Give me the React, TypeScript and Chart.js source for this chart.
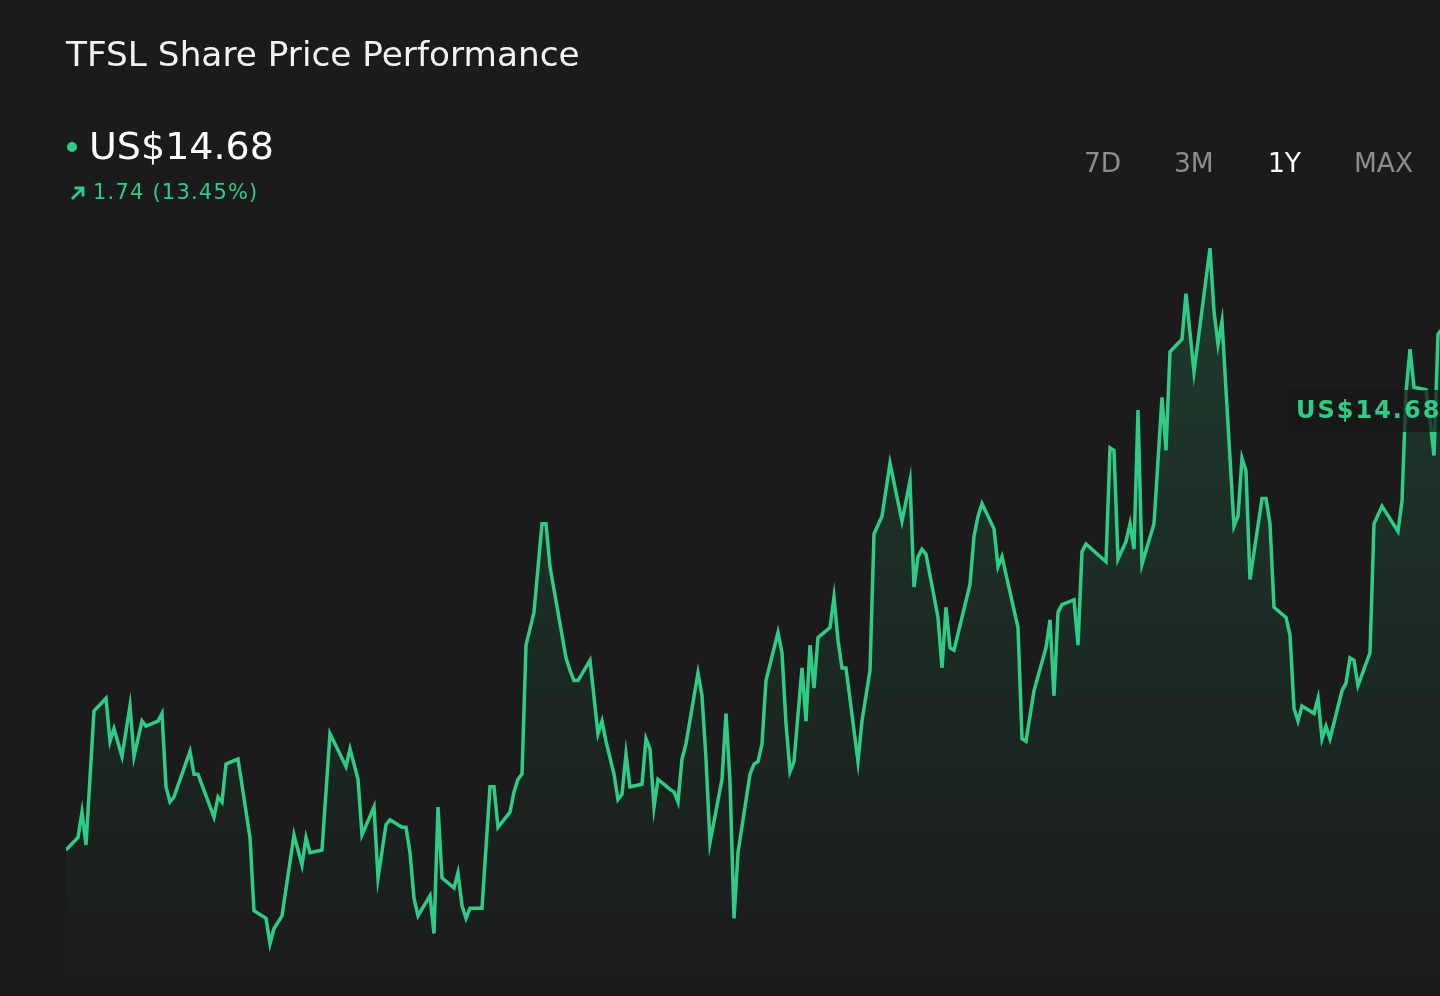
import { useEffect, useRef } from "react"
import Chart from "chart.js/auto"

// trading day index (from start of the 1Y window) and close price
const dayIndex = [
  0, 3, 4, 5, 7, 10, 11, 12, 14, 16, 17, 19, 20, 23, 24, 25, 26, 27, 31, 32, 33, 37, 38, 39, 40, 43,
  46, 47, 50, 51, 52, 54, 57, 59, 60, 61, 64, 66, 70, 71, 73, 74, 77, 78, 80, 81, 84, 85, 86, 87, 88,
  91, 92, 93, 94, 97, 98, 99, 100, 101, 104, 106, 107, 108, 111, 112, 113, 114, 115, 117, 119, 120,
  121, 125, 126, 127, 128, 131, 133, 134, 135, 137, 138, 139, 140, 141, 144, 145, 146, 147, 148, 151,
  152, 153, 154, 155, 158, 159, 160, 161, 164, 165, 166, 167, 168, 171, 172, 173, 174, 175, 178, 179,
  180, 181, 182, 184, 185, 186, 187, 188, 191, 192, 193, 194, 195, 198, 199, 201, 202, 204, 206, 209,
  211, 212, 213, 214, 215, 218, 219, 220, 221, 222, 226, 227, 228, 229, 232, 233, 234, 238, 239, 240,
  242, 245, 246, 247, 248, 249, 252, 253, 254, 255, 260, 261, 262, 263, 265, 266, 267, 268, 269, 272,
  274, 275, 276, 279, 280, 282, 286, 287, 288, 289, 292, 293, 294, 295, 296, 299, 300, 301, 302, 305,
  306, 307, 308, 309, 312, 313, 314, 315, 316, 319, 320, 321, 322, 323, 326, 327, 329, 333, 334, 335,
  336, 337, 340, 341, 342, 343, 344, 346, 348,
]

const closePrices = [
  12.94, 12.99, 13.09, 12.96, 13.49, 13.54, 13.37, 13.42, 13.31, 13.51, 13.31, 13.45, 13.43, 13.45,
  13.48, 13.19, 13.13, 13.15, 13.33, 13.24, 13.24, 13.07, 13.15, 13.13, 13.28, 13.3,
  12.99, 12.7, 12.67, 12.57, 12.63, 12.68, 13.0, 12.88, 12.99, 12.93, 12.94, 13.4, 13.27, 13.34, 13.22,
  13.0, 13.11, 12.83, 13.04, 13.06, 13.03, 13.03, 12.93, 12.75, 12.68,
  12.76, 12.61, 13.11, 12.83, 12.79, 12.85, 12.72, 12.67, 12.71, 12.71, 13.19, 13.19, 13.03, 13.09,
  13.17, 13.22, 13.24, 13.75, 13.88, 14.23, 14.23,
  14.06, 13.7, 13.65, 13.61, 13.61, 13.69, 13.4, 13.45, 13.37, 13.24, 13.14, 13.16, 13.32, 13.19,
  13.2, 13.38, 13.34, 13.11, 13.22, 13.18,
  13.17, 13.13, 13.3, 13.36, 13.64, 13.55, 13.3, 12.97, 13.22, 13.48, 13.21, 12.67, 12.93, 13.24,
  13.28, 13.29, 13.36, 13.61, 13.8, 13.72,
  13.44, 13.25, 13.29, 13.66, 13.45, 13.75, 13.58, 13.78, 13.82, 13.94, 13.77, 13.66, 13.66, 13.29,
  13.45, 13.65, 14.19, 14.26, 14.47, 14.24,
  14.4, 13.98, 14.1, 14.13, 14.11, 13.86, 13.66, 13.9, 13.74, 13.73, 13.99, 14.18, 14.26, 14.31,
  14.21, 14.06, 14.1, 13.82, 13.38, 13.37,
  13.57, 13.74, 13.85, 13.55, 13.88, 13.91, 13.93, 13.75, 14.12, 14.15, 14.08, 14.53, 14.52, 14.09,
  14.16, 14.23, 14.13, 14.68, 14.07, 14.23,
  14.73, 14.52, 14.91, 14.96, 15.14, 14.83, 15.32, 15.07, 14.94, 15.03, 14.22, 14.26, 14.49, 14.44,
  14.01, 14.33, 14.33, 14.23, 13.9, 13.86,
  13.79, 13.5, 13.45, 13.51, 13.48, 13.54, 13.38, 13.43, 13.38, 13.57, 13.6, 13.7, 13.69, 13.59,
  13.72, 14.23, 14.3, 14.2, 14.32, 14.75,
  14.92, 14.77, 14.76, 14.64, 14.5, 14.98, 15.0, 14.9, 14.68,
]

const rangeLabels = ["7D", "3M", "1Y", "MAX"]
const activeRange = "1Y"
const lastPrice = 14.68
const priceChange = 1.74
const changePercent = 13.45

const green = "#2fcc85"
const font = "'DejaVu Sans', Verdana, sans-serif"

const lastPriceLabel = {
  id: "lastPriceLabel",
  afterDatasetsDraw(chart) {
    const { ctx, chartArea, scales } = chart
    const y = scales.y.getPixelForValue(lastPrice)
    const x = chartArea.right - 170
    ctx.save()
    ctx.fillStyle = "rgba(24, 24, 24, 0.72)"
    ctx.beginPath()
    ctx.roundRect(x - 9, y - 20, 200, 42, 4)
    ctx.fill()
    ctx.fillStyle = green
    ctx.font = `bold 24px ${font}`
    ctx.letterSpacing = "2px"
    ctx.textBaseline = "alphabetic"
    ctx.fillText(`US$${lastPrice.toFixed(2)}`, x, y + 8)
    ctx.restore()
  },
}

function PriceChart() {
  const chartRef = useRef(null)
  const chartInstance = useRef(null)

  useEffect(() => {
    if (chartInstance.current) chartInstance.current.destroy()
    const ctx = chartRef.current.getContext("2d")

    chartInstance.current = new Chart(ctx, {
      type: "line",
      data: {
        datasets: [
          {
            data: dayIndex.map((d, i) => ({ x: d, y: closePrices[i] })),
            borderColor: green,
            borderWidth: 3.5,
            pointRadius: 0,
            tension: 0,
            fill: "start",
            backgroundColor: (c) => {
              const area = c.chart.chartArea
              if (!area) return "rgba(47, 204, 133, 0.1)"
              const g = c.chart.ctx.createLinearGradient(0, 240, 0, area.bottom)
              g.addColorStop(0, "rgba(47, 204, 133, 0.19)")
              g.addColorStop(1, "rgba(47, 204, 133, 0.0)")
              return g
            },
          },
        ],
      },
      options: {
        responsive: true,
        maintainAspectRatio: false,
        animation: false,
        layout: { padding: 0 },
        plugins: { legend: { display: false }, tooltip: { enabled: false } },
        scales: {
          x: { type: "linear", min: 0, max: 350, display: false },
          y: { min: 12.363, max: 16.301, display: false },
        },
      },
      plugins: [lastPriceLabel],
    })

    return () => {
      if (chartInstance.current) {
        chartInstance.current.destroy()
        chartInstance.current = null
      }
    }
  }, [])

  return (
    <div style={{ position: "absolute", left: 66, top: 0, width: 1400, height: 996 }}>
      <canvas ref={chartRef} />
    </div>
  )
}

export default function App() {
  useEffect(() => {
    document.body.style.margin = "0"
    document.body.style.background = "#1b1b1b"
  }, [])

  const rangeLeft = [1084, 1174, 1268, 1354]

  return (
    <div
      style={{
        position: "relative",
        width: 1440,
        height: 996,
        overflow: "hidden",
        background: "#1b1b1b",
        fontFamily: font,
      }}
    >
      <PriceChart />
      <div
        style={{ position: "absolute", left: 66, top: 37, fontSize: 34.3, lineHeight: "34px", color: "#f2f2f2" }}
      >
        TFSL Share Price Performance
      </div>
      <div
        style={{ position: "absolute", left: 67, top: 142, width: 10, height: 10, borderRadius: 5, background: green }}
      />
      <div style={{ position: "absolute", left: 89, top: 127, fontSize: 38, lineHeight: "38px", color: "#ffffff" }}>
        US${lastPrice.toFixed(2)}
      </div>
      <svg style={{ position: "absolute", left: 69, top: 184 }} width="18" height="18" viewBox="0 0 18 18">
        <path d="M3 15 L14 4 M5.5 4 H14 V12.5" stroke={green} strokeWidth="2.8" fill="none" />
      </svg>
      <div
        style={{
          position: "absolute",
          left: 93,
          top: 182,
          fontSize: 21,
          lineHeight: "21px",
          letterSpacing: "1.2px",
          color: green,
        }}
      >
        {priceChange.toFixed(2)} ({changePercent.toFixed(2)}%)
      </div>
      {rangeLabels.map((r, i) => (
        <div
          key={r}
          style={{
            position: "absolute",
            left: rangeLeft[i],
            top: 150,
            fontSize: 26.5,
            lineHeight: "26px",
            color: r === activeRange ? "#ffffff" : "#8c8c8c",
          }}
        >
          {r}
        </div>
      ))}
    </div>
  )
}
